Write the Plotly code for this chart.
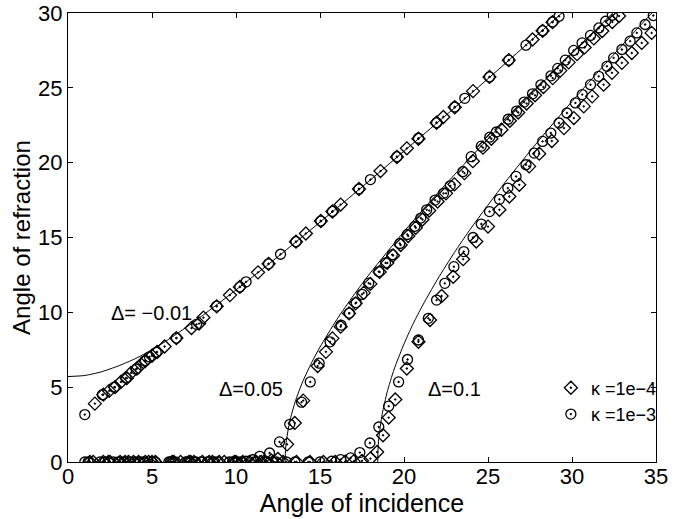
import plotly.graph_objects as go

FONT = "Liberation Sans, Arial, Helvetica, sans-serif"

# ---------------- axis ticks ----------------
x_ticks = [0, 5, 10, 15, 20, 25, 30, 35]
y_ticks = [0, 5, 10, 15, 20, 25, 30]

# ---------------- solid (theoretical) curves ----------------
line_dm001_x = [0, 1, 2, 3, 4, 5, 6, 7, 8, 9, 10, 12, 14, 16, 18, 20, 22, 24, 26, 28, 30]
line_dm001_y = [5.71, 5.78, 6.03, 6.42, 6.90, 7.50, 8.20, 8.97, 9.78, 10.63, 11.50, 13.27,
                15.10, 16.96, 18.85, 20.77, 22.69, 24.63, 26.60, 28.60, 30.60]

line_d005_x = [12.92, 12.95, 13.0, 13.2, 13.5, 13.75, 14.0, 14.5, 15.0, 16.0, 17.0, 18.0,
               20.0, 22.0, 24.0, 26.0, 28.0, 30.0, 32.0, 33.0]
line_d005_y = [0.0, 0.87, 1.44, 2.72, 3.94, 4.74, 5.44, 6.64, 7.68, 9.52, 11.14, 12.64,
               15.40, 17.96, 20.40, 22.76, 25.06, 27.31, 29.53, 30.63]

line_d01_x = [18.435, 18.45, 18.5, 18.7, 19.0, 19.25, 19.5, 20.0, 20.5, 21.0, 22.0, 23.0,
              24.0, 26.0, 28.0, 30.0, 32.0, 34.0, 35.0]
line_d01_y = [0.0, 0.76, 1.58, 3.19, 4.68, 5.64, 6.47, 7.89, 9.13, 10.24, 12.22, 14.00,
              15.64, 18.66, 21.45, 24.09, 26.63, 29.09, 30.29]

# ---------------- kappa = 1e-4 (diamonds) ----------------
dia_dm001_x = [1.6, 2.1, 2.45, 2.8, 3.15, 3.5, 3.75, 4.1, 4.35, 4.6, 5.0, 5.3, 5.75, 6.45,
               7.35, 7.8, 8.06, 8.85, 9.64, 10.23, 11.31, 11.94, 13.57, 14.16, 15.05, 15.74,
               16.23, 17.32, 18.6, 19.58, 20.17, 20.86, 21.94, 22.34, 23.02, 24.11, 25.09,
               26.24, 27.65, 28.25, 28.84]
dia_dm001_y = [3.9, 4.5, 4.75, 5.0, 5.35, 5.6, 5.95, 6.25, 6.52, 6.75, 7.1, 7.35, 7.72, 8.28,
               8.95, 9.25, 9.65, 10.4, 11.15, 11.7, 12.67, 13.24, 14.72, 15.27, 16.1, 16.74,
               17.2, 18.24, 19.44, 20.38, 20.96, 21.6, 22.67, 23.05, 23.7, 24.78, 25.73,
               26.85, 28.23, 28.81, 29.39]

dia_d005_x = [1.3, 2.1, 2.4, 3.1, 3.6, 4.2, 4.8, 5.2, 6.2, 6.7, 7.3, 8.0, 8.6, 9.3, 10.0,
              10.4, 11.2, 11.7, 12.1, 12.5, 13.04, 13.5, 14.0, 14.86, 15.35, 15.74, 16.23,
              16.73, 17.12, 17.6, 18.0, 18.55, 19.0, 19.35, 19.8, 20.25, 20.7, 21.1, 21.5,
              22.0, 22.5, 23.0, 23.6, 24.1, 24.7, 25.2, 25.8, 26.3, 26.8, 27.3, 27.8, 28.3,
              28.85, 29.3, 29.8, 30.3, 30.75, 31.3, 31.8, 32.4, 32.8]
dia_d005_y = [0, 0, 0, 0, 0, 0, 0, 0, 0, 0, 0, 0, 0, 0, 0,
              0, 0, 0.05, 0.1, 0.2, 1.18, 2.61, 4.1, 6.41, 7.36, 8.26, 9.04,
              9.93, 10.6, 11.3, 11.9, 12.7, 13.3, 13.8, 14.5, 15.1, 15.65, 16.2, 16.8,
              17.4, 17.95, 18.55, 19.3, 20.1, 21.0, 21.6, 22.2, 22.8, 23.35, 23.95, 24.5, 25.05,
              25.65, 26.15, 26.7, 27.25, 27.7, 28.3, 28.8, 29.4, 29.8]

dia_d01_x = [1.5, 2.5, 3.4, 3.9, 4.6, 5.0, 6.3, 7.2, 7.5, 8.4, 9.0, 9.9, 10.8, 11.5, 12.2,
             12.8, 13.6, 14.4, 15.2, 15.9, 16.5, 17.0, 17.5, 18.0, 18.4, 18.75, 19.09, 19.48,
             20.17, 20.86, 21.55, 22.24, 22.93, 23.52, 24.3, 25.0, 25.68, 26.27, 26.86, 27.45,
             28.05, 28.8, 29.52, 30.11, 30.7, 31.2, 31.88, 32.38, 32.97, 33.56, 34.15, 34.74]
dia_d01_y = [0, 0, 0, 0, 0, 0, 0, 0, 0, 0, 0, 0, 0, 0, 0,
             0, 0, 0, 0, 0, 0.02, 0.04, 0.08, 0.23, 0.67, 1.79, 2.97, 4.18,
             6.25, 8.03, 9.49, 11.09, 12.38, 13.55, 14.73, 15.73, 16.85, 17.74, 18.52, 19.75,
             20.6, 21.45, 22.31, 22.98, 23.76, 24.43, 25.21, 26.0, 26.67, 27.33, 28.0, 28.67]

# ---------------- kappa = 1e-3 (circles) ----------------
cir_dm001_x = [1.0, 2.05, 2.75, 3.45, 4.05, 4.6, 4.85, 5.25, 6.45, 7.65, 8.85, 10.23, 10.6,
               11.94, 12.65, 13.57, 15.05, 15.74, 17.32, 18.0, 19.58, 20.86, 21.94, 23.02,
               23.62, 25.09, 26.24, 27.26, 28.25, 28.84, 29.23]
cir_dm001_y = [3.17, 4.5, 5.0, 5.62, 6.2, 6.78, 7.02, 7.32, 8.28, 9.2, 10.42, 11.7, 12.04,
               13.24, 13.88, 14.72, 16.1, 16.74, 18.24, 18.87, 20.4, 21.63, 22.67, 23.72,
               24.3, 25.73, 26.85, 27.85, 28.82, 29.4, 29.78]

cir_d005_x = [1.0, 1.9, 2.7, 3.3, 4.0, 4.5, 5.0, 6.0, 6.4, 7.1, 7.6, 8.3, 8.9, 9.6, 10.1,
              10.6, 11.0, 11.41, 12.0, 12.59, 13.2, 13.9, 14.42, 14.95, 15.6, 16.25, 16.75,
              17.15, 17.5, 17.9, 18.5, 18.9, 19.3, 19.75, 20.2, 20.65, 21.0, 21.35, 21.85,
              22.35, 22.75, 23.5, 24.0, 24.6, 25.1, 25.5, 26.2, 26.7, 27.15, 27.65, 28.15,
              28.75, 29.15, 29.6, 30.1, 30.6, 31.1, 31.6, 32.0, 32.4]
cir_d005_y = [0, 0, 0, 0, 0, 0, 0, 0, 0, 0, 0, 0, 0, 0, 0,
              0.05, 0.15, 0.38, 0.6, 1.34, 2.52, 4.0, 5.35, 6.6, 8.03, 9.15, 9.95,
              10.65, 11.2, 11.95, 12.72, 13.3, 13.85, 14.6, 15.2, 15.75, 16.3, 16.85, 17.5,
              17.95, 18.45, 19.4, 20.4, 21.1, 21.7, 22.05, 22.9, 23.45, 24.05, 24.6, 25.2,
              25.8, 26.3, 26.85, 27.5, 28.0, 28.5, 29.0, 29.45, 29.85]

cir_d01_x = [1.2, 2.2, 3.0, 3.7, 4.3, 5.2, 6.1, 7.0, 7.9, 8.7, 9.8, 10.3, 11.1, 11.8, 12.4,
             13.0, 13.5, 14.3, 15.0, 15.7, 16.23, 16.82, 17.37, 17.97, 18.5, 19.09, 19.68,
             20.21, 20.86, 21.45, 21.94, 22.43, 22.97, 23.56, 24.11, 24.6, 25.09, 25.68,
             26.18, 26.67, 27.26, 27.75, 28.25, 28.74, 29.23, 29.7, 30.2, 30.61, 31.1,
             31.59, 32.08, 32.48, 32.97, 33.46, 33.86, 34.35, 34.84]
cir_d01_y = [0, 0, 0, 0, 0, 0, 0, 0, 0, 0, 0, 0, 0, 0, 0,
             0, 0, 0, 0, 0.05, 0.16, 0.27, 0.63, 1.27, 2.34, 3.73, 5.35,
             6.85, 8.15, 9.6, 10.82, 11.94, 13.05, 14.06, 15.0, 15.9, 16.73, 17.55,
             18.3, 19.08, 19.86, 20.64, 21.42, 21.98, 22.65, 23.32, 23.99, 24.55, 25.21,
             25.77, 26.44, 27.0, 27.56, 28.12, 28.67, 29.23, 29.83]

# ---------------- annotation labels ----------------
label_text = ["Δ= −0.01", "Δ=0.05", "Δ=0.1"]
label_x = [4.96, 10.92, 23.02]
label_y = [9.93, 4.91, 4.91]

legend_names = ["κ =1e−4", "κ =1e−3"]

fig = go.Figure()

for lx, ly in [(line_dm001_x, line_dm001_y), (line_d005_x, line_d005_y), (line_d01_x, line_d01_y)]:
    fig.add_trace(go.Scatter(x=lx, y=ly, mode="lines",
                             line=dict(color="black", width=1, shape="spline", smoothing=0.6),
                             showlegend=False, hoverinfo="skip"))

dia_sets = [(dia_dm001_x, dia_dm001_y), (dia_d005_x, dia_d005_y), (dia_d01_x, dia_d01_y)]
cir_sets = [(cir_dm001_x, cir_dm001_y), (cir_d005_x, cir_d005_y), (cir_d01_x, cir_d01_y)]

for i, (mx, my) in enumerate(dia_sets):
    fig.add_trace(go.Scatter(x=mx, y=my, mode="markers", name=legend_names[0],
                             legendgroup="k4", showlegend=(i == 0),
                             marker=dict(symbol="diamond-open-dot", size=10, color="black",
                                         line=dict(width=1.3, color="black"))))
for i, (mx, my) in enumerate(cir_sets):
    fig.add_trace(go.Scatter(x=mx, y=my, mode="markers", name=legend_names[1],
                             legendgroup="k3", showlegend=(i == 0),
                             marker=dict(symbol="circle-open-dot", size=10, color="black",
                                         line=dict(width=1.3, color="black"))))

for t, ax_, ay_ in zip(label_text, label_x, label_y):
    fig.add_annotation(x=ax_, y=ay_, text=t, showarrow=False,
                       font=dict(family=FONT, size=20, color="black"))

axis_common = dict(showline=True, linecolor="black", linewidth=1, mirror="ticks",
                   ticks="inside", ticklen=5, tickcolor="black", showgrid=False,
                   zeroline=False, automargin=False,
                   tickfont=dict(family=FONT, size=22, color="black"))

fig.update_layout(
    width=674, height=519,
    margin=dict(l=68, r=13, t=13, b=57),
    paper_bgcolor="white", plot_bgcolor="white",
    font=dict(family=FONT, color="black"),
    xaxis=dict(range=[0, 35], tickvals=x_ticks, ticklabelstandoff=-5, **axis_common,
               title=dict(text="Angle of incidence", font=dict(family=FONT, size=25), standoff=0)),
    yaxis=dict(range=[0, 30], tickvals=y_ticks, ticklabelstandoff=0, **axis_common,
               title=dict(text="Angle of refraction", font=dict(family=FONT, size=24), standoff=0)),
    legend=dict(x=1.01, xanchor="right", y=0.206, yanchor="top",
                bgcolor="rgba(0,0,0,0)", borderwidth=0, itemwidth=30,
                font=dict(family=FONT, size=18, color="black"),
                tracegroupgap=0),
    showlegend=True,
)

fig.write_html("out.html", config={"displayModeBar": False},
               post_script="document.body.style.margin='0';document.body.style.overflow='hidden';")
